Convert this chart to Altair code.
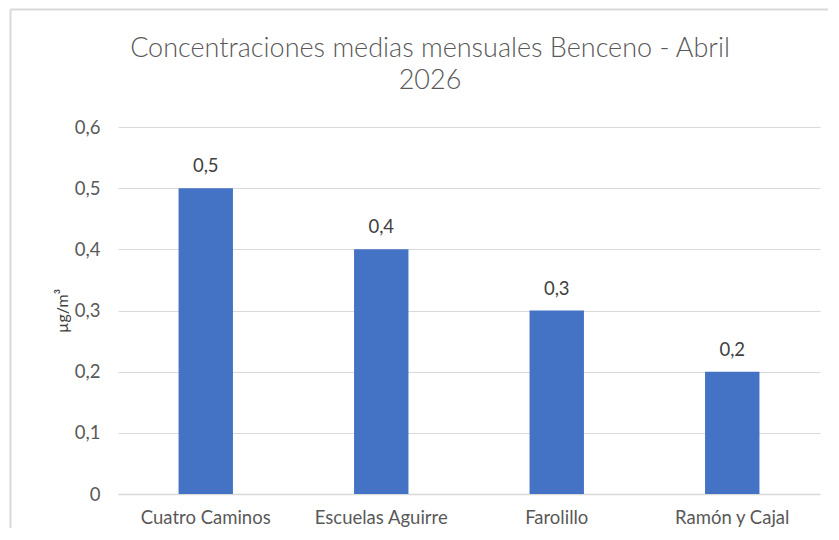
import altair as alt
import pandas as pd

stations = ["Cuatro Caminos", "Escuelas Aguirre", "Farolillo", "Ramón y Cajal"]
values = [0.5, 0.4, 0.3, 0.2]
labels = ["0,5", "0,4", "0,3", "0,2"]

df = pd.DataFrame({"station": stations, "value": values, "label": labels})

FONT = "Lato"
GREY = "#595959"

base = alt.Chart(df)
one = alt.Chart(pd.DataFrame({"k": [0]}))

frame_top = one.mark_rule(stroke="#d9d9d9", strokeWidth=2).encode(
    x=alt.value(-107.5), x2=alt.value(800), y=alt.value(-117.5),
)
frame_left = one.mark_rule(stroke="#d9d9d9", strokeWidth=2).encode(
    x=alt.value(-107.5), y=alt.value(-117.5), y2=alt.value(480),
)

bars = base.mark_bar(color="#4472C4").encode(
    x=alt.X("station:N", sort=stations, title=None,
            scale=alt.Scale(paddingInner=0.69, paddingOuter=0.345),
            axis=alt.Axis(labelAngle=0, labelFont=FONT, labelFontSize=18.5,
                          labelColor=GREY, ticks=False, domainColor="#d9d9d9",
                          domainWidth=1.5, labelPadding=14)),
    y=alt.Y("value:Q", title="µg/m³",
            scale=alt.Scale(domain=[0, 0.6]),
            axis=alt.Axis(values=[0, 0.1, 0.2, 0.3, 0.4, 0.5, 0.6],
                          labelExpr="replace(format(datum.value, '.1~f'), '.', ',')",
                          labelFont=FONT, labelFontSize=18.5, labelColor=GREY,
                          ticks=False, domain=False, gridColor="#d9d9d9",
                          gridWidth=1.2, labelPadding=18,
                          titleFont=FONT, titleFontSize=16, titleFontWeight="normal",
                          titleColor="#404040", titlePadding=4)),
)

text = base.mark_text(font=FONT, fontSize=18.5, color="#404040", dy=-22).encode(
    x=alt.X("station:N", sort=stations),
    y="value:Q",
    text="label:N",
)

chart = (frame_top + frame_left + bars + text).properties(
    width=702,
    height=367,
    autosize=alt.AutoSizeParams(type="none"),
    padding={"left": 110, "top": 119, "right": 8, "bottom": 34},
    title=alt.TitleParams(
        ["Concentraciones medias mensuales Benceno - Abril", "2026"],
        font=FONT, fontSize=27, fontWeight=300, color=GREY,
        anchor="middle", dx=-39, dy=86, offset=0, lineHeight=32,
    ),
).configure_view(stroke=None)

chart.save("out.html", embed_options={"renderer": "svg", "actions": False})
